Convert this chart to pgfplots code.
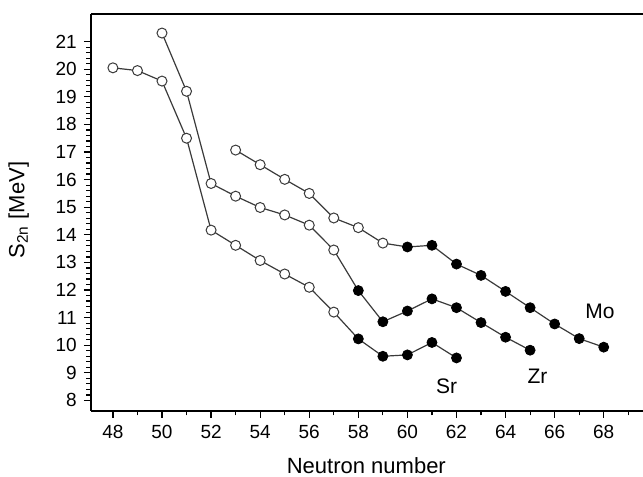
\documentclass[border=0pt]{standalone}
\usepackage{pgfplots}
\pgfplotsset{compat=1.18}
\usepackage{fontspec}
\setmainfont{Liberation Sans}
\definecolor{ln}{HTML}{3A3A3A}
\begin{document}
\begin{tikzpicture}
\begin{axis}[
  scale only axis,
  width=276pt, height=198.4pt,
  xmin=47.1, xmax=69.6, ymin=7.62, ymax=22,
  axis x line*=bottom, axis y line*=left,
  xtick={48,50,...,68}, minor xtick={49,51,...,69},
  ytick={8,...,21}, minor y tick num=4,
  tick align=outside,
  major tick length=3.5pt, minor tick length=2.2pt,
  every tick/.style={line width=0.6pt, black},
  axis line style={line width=0.8pt, black},
  /pgf/number format/assume math mode=true,
  ticklabel style={font=\fontsize{9.5}{10}\selectfont},
  clip=false,
  lineS/.style={color=ln, line width=0.6pt, mark=none},
  openM/.style={only marks, mark=*, mark size=2.5pt, mark options={draw=ln, fill=white, line width=0.5pt}},
  fillM/.style={only marks, mark=*, mark size=2.5pt, mark options={draw=black, fill=black}},
]
% Sr
\addplot[lineS] coordinates {(48,20.05)(49,19.95)(50,19.57)(51,17.5)(52,14.17)(53,13.62)(54,13.07)(55,12.58)(56,12.1)(57,11.2)(58,10.23)(59,9.6)(60,9.65)(61,10.1)(62,9.54)};
\addplot[openM] coordinates {(48,20.05)(49,19.95)(50,19.57)(51,17.5)(52,14.17)(53,13.62)(54,13.07)(55,12.58)(56,12.1)(57,11.2)};
\addplot[fillM] coordinates {(58,10.23)(59,9.6)(60,9.65)(61,10.1)(62,9.54)};
% Zr
\addplot[lineS] coordinates {(50,21.31)(51,19.2)(52,15.86)(53,15.4)(54,14.99)(55,14.72)(56,14.35)(57,13.45)(58,11.98)(59,10.85)(60,11.24)(61,11.68)(62,11.36)(63,10.82)(64,10.29)(65,9.82)};
\addplot[openM] coordinates {(50,21.31)(51,19.2)(52,15.86)(53,15.4)(54,14.99)(55,14.72)(56,14.35)(57,13.45)};
\addplot[fillM] coordinates {(58,11.98)(59,10.85)(60,11.24)(61,11.68)(62,11.36)(63,10.82)(64,10.29)(65,9.82)};
% Mo
\addplot[lineS] coordinates {(53,17.07)(54,16.54)(55,16.01)(56,15.5)(57,14.61)(58,14.26)(59,13.7)(60,13.56)(61,13.62)(62,12.94)(63,12.53)(64,11.95)(65,11.36)(66,10.77)(67,10.24)(68,9.93)};
\addplot[openM] coordinates {(53,17.07)(54,16.54)(55,16.01)(56,15.5)(57,14.61)(58,14.26)(59,13.7)};
\addplot[fillM] coordinates {(60,13.56)(61,13.62)(62,12.94)(63,12.53)(64,11.95)(65,11.36)(66,10.77)(67,10.24)(68,9.93)};
\node[font=\fontsize{10.5}{12}\selectfont] at (axis cs:67.85,11.22) {Mo};
\node[font=\fontsize{10.5}{12}\selectfont] at (axis cs:65.3,8.88) {Zr};
\node[font=\fontsize{10.5}{12}\selectfont] at (axis cs:61.6,8.52) {Sr};
\draw[line width=0.8pt] (rel axis cs:0,1) -- (rel axis cs:1,1);
\coordinate (sw) at (rel axis cs:0,0);
\coordinate (ne) at (rel axis cs:1,1);
\coordinate (ylab) at (rel axis cs:0,0.506);
\coordinate (xlab) at (rel axis cs:0.499,0);
\end{axis}
\node[rotate=90, font=\fontsize{11}{12}\selectfont] at ([xshift=-36pt]ylab) {S\textsubscript{2n} [MeV]};
\node[font=\fontsize{11}{12}\selectfont] at ([yshift=-27.5pt]xlab) {Neutron number};
\path (sw) ++(-45.4pt,-32.7pt) coordinate (a);
\path (ne) ++(0,7pt) coordinate (b);
\pgfresetboundingbox
\path[use as bounding box] (a) rectangle (b);
\end{tikzpicture}
\end{document}
